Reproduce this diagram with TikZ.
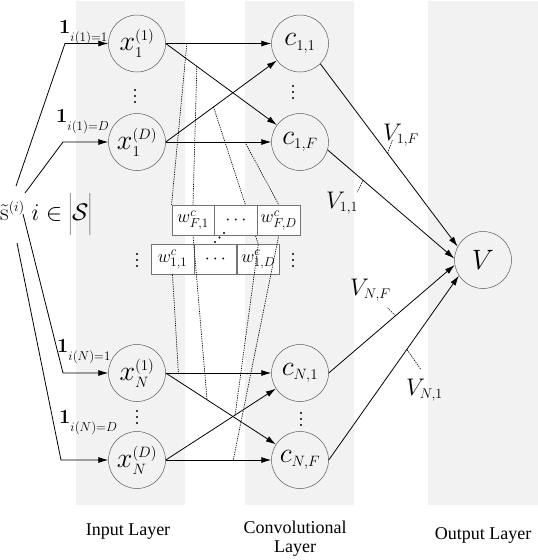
\RequirePackage{fix-cm}
\documentclass[tikz,border=0pt]{standalone}
\usepackage[no-math]{fontspec}
\newfontfamily\labfont{Liberation Serif}
\usetikzlibrary{arrows.meta,positioning}
\pgfdeclarelayer{bg}
\pgfsetlayers{bg,main}
\DeclareMathSizes{28}{28}{15}{11}
\DeclareMathSizes{24}{24}{14}{10}
\DeclareMathSizes{20}{20}{13}{10}
\DeclareMathSizes{18}{18}{13}{9}
\newcommand\dropsub[1]{\lower5pt\hbox{$\scriptstyle #1$}}

\begin{document}
\begin{tikzpicture}[x=1pt,y=-1pt,
    neuron/.style={circle,draw=black!65,line width=0.5pt,minimum size=57pt,inner sep=0pt,font=\fontsize{28}{32}\selectfont},
    arr/.style={-{Latex[length=10pt,width=6pt]},line width=0.8pt},
    wbox/.style={draw=black!55,fill=white,minimum width=42.5pt,minimum height=30pt,inner sep=0pt,font=\fontsize{18}{22}\selectfont},
    share/.style={dash pattern=on 1.2pt off 1.1pt,line width=0.7pt},
    tick/.style={dash pattern=on 1.5pt off 1pt,line width=0.6pt},
    lab/.style={inner sep=0pt,font=\fontsize{24}{28}\selectfont},
    ind/.style={inner sep=0pt,anchor=base west,font=\fontsize{20}{24}\selectfont},
    layername/.style={inner sep=0pt,align=center,font=\labfont\fontsize{18}{19}\selectfont}]
    \useasboundingbox (0,0) rectangle (538,560);
    % input layer
    \node[neuron] (x11) at (137,43.5) {$x_1^{(1)}$};
    \node[neuron] (x1D) at (137,142) {$x_1^{(D)}$};
    \node[neuron] (xN1) at (137,373) {$x_N^{(1)}$};
    \node[neuron] (xND) at (137,460) {$x_N^{(D)}$};
    % convolutional layer
    \node[neuron] (c11) at (300,43.5) {$c_{1,1}$};
    \node[neuron] (c1F) at (300,142) {$c_{1,F}$};
    \node[neuron] (cN1) at (300,373) {$c_{N,1}$};
    \node[neuron] (cNF) at (300,460) {$c_{N,F}$};
    % output
    \node[neuron] (V) at (483,260) {$V$};
    % one-hot inputs
    \node[lab,anchor=west] (s) at (0,214) {$\tilde{\mathrm{s}}^{(i)}\; i\in\left|\rule[-14pt]{0pt}{40pt}\mathcal{S}\right|$};
    \coordinate (s1) at (16,186);  \coordinate (k1) at (65,43.5);
    \coordinate (s2) at (25,193);  \coordinate (k2) at (63,142);
    \coordinate (s3) at (23,214);  \coordinate (k3) at (63,373);
    \coordinate (s4) at (17,243);  \coordinate (k4) at (61,460);
    \foreach \i/\n in {1/x11,2/x1D,3/xN1,4/xND}
        \draw[arr] (s\i) -- (k\i) -- (\n);
    \node[ind] (i1) at (59,33) {$\mathbf{1}_{\dropsub{i(1)=1}}$};
    \node[ind] (i2) at (56,122) {$\mathbf{1}_{\dropsub{i(1)=D}}$};
    \node[ind] (i3) at (57,352) {$\mathbf{1}_{\dropsub{i(N)=1}}$};
    \node[ind] (i4) at (59,423) {$\mathbf{1}_{\dropsub{i(N)=D}}$};
    % input -> convolutional
    \draw[arr] (x11.east) -- coordinate[pos=0.2] (a1) (c11);
    \draw[arr] (x11.east) -- coordinate[pos=0.28] (a2) (c1F);
    \draw[arr] (x1D.east) -- coordinate[pos=0.43] (a3) (c11);
    \draw[arr] (x1D.east) -- coordinate[pos=0.75] (a4) (c1F);
    \draw[arr] (xN1.east) -- coordinate[pos=0.12] (b1) (cN1);
    \draw[arr] (xN1.east) -- coordinate[pos=0.375] (b2) (cNF);
    \draw[arr] (xND.east) -- coordinate[pos=0.63] (b3) (cN1);
    \draw[arr] (xND.east) -- coordinate[pos=0.64] (b4) (cNF);
    % convolutional -> output
    \draw[arr] (c11.-45) -- coordinate[pos=0.49] (q1F) (V.152);
    \draw[arr] (c1F.-16) -- coordinate[pos=0.28] (q11) (V.177);
    \draw[arr] (cN1.east) -- coordinate[pos=0.53] (qNF) (V.190);
    \draw[arr] (cNF.east) -- coordinate[pos=0.6] (qN1) (V.213);
    \path (q1F) ++(5,-14) coordinate (t1F);
    \path (q11) ++(-6,12) coordinate (t11);
    \path (qNF) ++(-8,-8) coordinate (tNF);
    \path (qN1) ++(14,20) coordinate (tN1);
    \foreach \a in {1F,11,NF,N1}
        \draw[tick] (q\a) -- (t\a);
    \node[lab,anchor=base west] (v1F) at (383,140) {$V_{1,F}$};
    \node[lab,anchor=base west] (v11) at (326,208) {$V_{1,1}$};
    \node[lab,anchor=base west] (vNF) at (350,295) {$V_{N,F}$};
    \node[lab,anchor=base west] (vN1) at (406,395) {$V_{N,1}$};
    % shared weights
    \node[wbox] (wF1) at (193,220) {$w^{c}_{F,1}$};
    \node[wbox,right=0pt of wF1] (wFd) {$\cdots$};
    \node[wbox,right=0pt of wFd] (wFD) {$w^{c}_{F,D}$};
    \foreach \p in {(135,96),(293,92),(137,260),(293,260),(137,417),(301,419)}
        \foreach \d in {-6,0,6}
            \fill \p ++(0,\d) circle (1.1);
    \foreach \p in {(215,242),(219.5,237.5),(224,233)}
        \fill \p circle (1.2);
    \node[layername,anchor=base] (inl) at (128,535) {Input Layer};
    \node[layername] (cvl) at (295,538.5) {Convolutional\\Layer};
    \node[layername,anchor=base] (outl) at (483,539) {Output Layer};
    \begin{pgfonlayer}{bg}
        \fill[black!5] (76,1) rectangle (185,505);
        \fill[black!5] (245,1) rectangle (354,505);
        \fill[black!5] (428,1) rectangle (538,505);
        \node[wbox] (w11) at (172.5,259.5) {$w^{c}_{1,1}$};
        \node[wbox,right=0pt of w11] (w1d) {$\cdots$};
        \node[wbox,right=0pt of w1d] (w1D) {$w^{c}_{1,D}$};
        \draw[share] (a1) -- (wF1.north west) (w11.south) -- (b1);
        \draw[share] (a2) -- (wF1.north) (wF1.south) -- (b2);
        \draw[share] (a3) -- (w1D.north) -- (b3);
        \draw[share] (a4) -- (wFD.north) (wFD.south) -- (b4);
    \end{pgfonlayer}
\end{tikzpicture}
\end{document}
